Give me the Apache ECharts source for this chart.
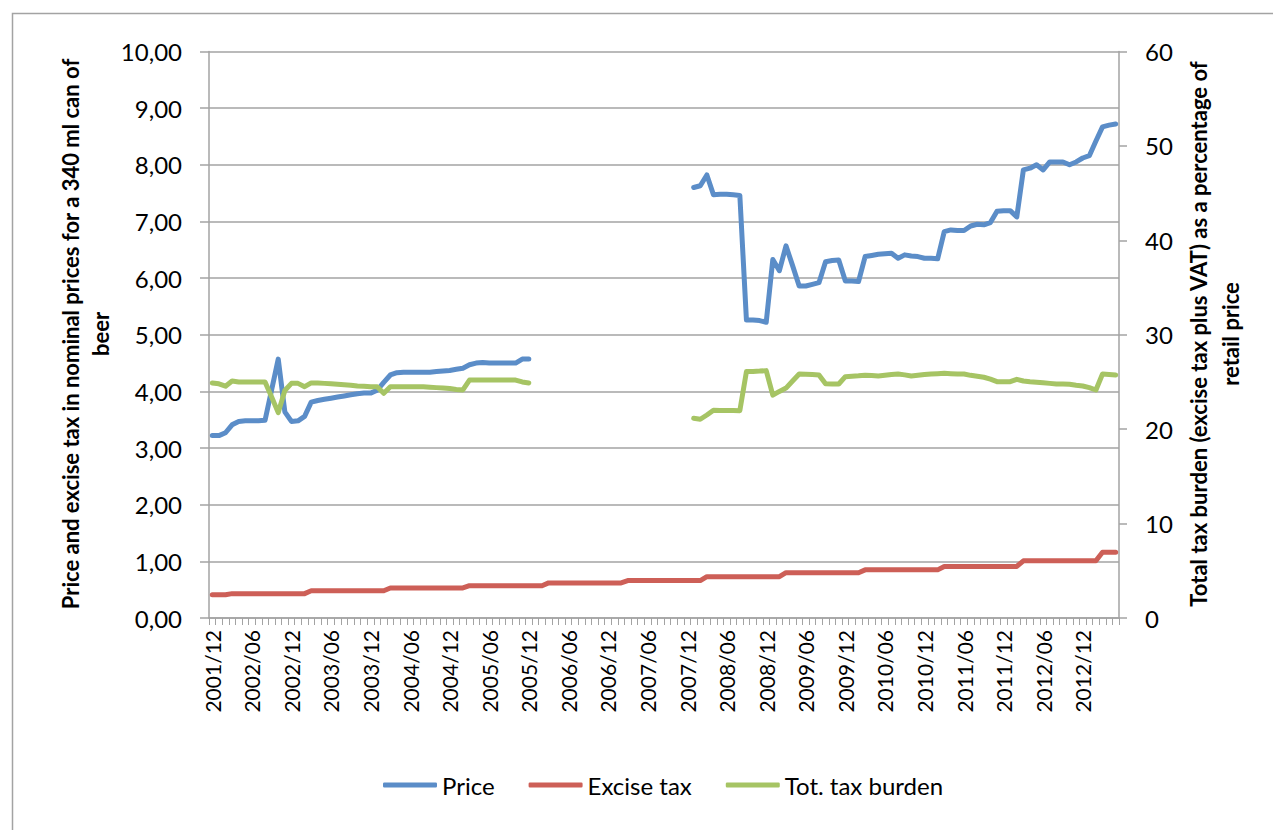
<!DOCTYPE html>
<html>
<head>
<meta charset="utf-8">
<title>Beer price and taxes</title>
<script src="https://cdn.jsdelivr.net/npm/echarts@6/dist/echarts.min.js"></script>
<style>
  html, body { margin: 0; padding: 0; background: #ffffff; }
  #chart { width: 1273px; height: 830px; }
</style>
</head>
<body>
<div id="chart"></div>
<script>
// Monthly categories, 2001/12 through 2013/05
const months = [];
for (let y = 2001, m = 12; !(y === 2013 && m === 6); ) {
  months.push(y + '/' + String(m).padStart(2, '0'));
  m++; if (m > 12) { m = 1; y++; }
}

// Retail price of a 340 ml can (nominal), null where no observation
const price = [
  3.22,                                                                   // 2001/12
  3.22, 3.27, 3.41, 3.47, 3.48, 3.48, 3.48, 3.49, 4.03, 4.57, 3.64, 3.47, // 2002
  3.48, 3.56, 3.81, 3.84, 3.86, 3.88, 3.90, 3.92, 3.94, 3.96, 3.97, 3.97, // 2003
  4.02, 4.16, 4.29, 4.33, 4.34, 4.34, 4.34, 4.34, 4.34, 4.35, 4.36, 4.37, // 2004
  4.39, 4.41, 4.47, 4.50, 4.51, 4.50, 4.50, 4.50, 4.50, 4.50, 4.57, 4.57, // 2005
  null, null, null, null, null, null, null, null, null, null, null, null, // 2006
  null, null, null, null, null, null, null, null, null, null, null, null, // 2007
  7.60, 7.63, 7.82, 7.47, 7.48, 7.48, 7.47, 7.46, 5.26, 5.26, 5.25, 5.22, // 2008
  6.33, 6.13, 6.57, 6.22, 5.86, 5.86, 5.89, 5.92, 6.29, 6.31, 6.32, 5.95, // 2009
  5.95, 5.94, 6.38, 6.40, 6.42, 6.43, 6.44, 6.35, 6.41, 6.39, 6.38, 6.35, // 2010
  6.35, 6.34, 6.82, 6.85, 6.84, 6.84, 6.92, 6.95, 6.94, 6.98, 7.18, 7.19, // 2011
  7.19, 7.08, 7.91, 7.94, 8.00, 7.91, 8.05, 8.05, 8.05, 8.00, 8.05, 8.12, // 2012
  8.16, 8.42, 8.67, 8.70, 8.72                                            // 2013
];

// Excise tax per 340 ml can (nominal)
const exciseTax = [
  0.41,
  0.41, 0.41, 0.43, 0.43, 0.43, 0.43, 0.43, 0.43, 0.43, 0.43, 0.43, 0.43,
  0.43, 0.43, 0.48, 0.48, 0.48, 0.48, 0.48, 0.48, 0.48, 0.48, 0.48, 0.48,
  0.48, 0.48, 0.53, 0.53, 0.53, 0.53, 0.53, 0.53, 0.53, 0.53, 0.53, 0.53,
  0.53, 0.53, 0.57, 0.57, 0.57, 0.57, 0.57, 0.57, 0.57, 0.57, 0.57, 0.57,
  0.57, 0.57, 0.62, 0.62, 0.62, 0.62, 0.62, 0.62, 0.62, 0.62, 0.62, 0.62,
  0.62, 0.62, 0.66, 0.66, 0.66, 0.66, 0.66, 0.66, 0.66, 0.66, 0.66, 0.66,
  0.66, 0.66, 0.73, 0.73, 0.73, 0.73, 0.73, 0.73, 0.73, 0.73, 0.73, 0.73,
  0.73, 0.73, 0.80, 0.80, 0.80, 0.80, 0.80, 0.80, 0.80, 0.80, 0.80, 0.80,
  0.80, 0.80, 0.85, 0.85, 0.85, 0.85, 0.85, 0.85, 0.85, 0.85, 0.85, 0.85,
  0.85, 0.85, 0.91, 0.91, 0.91, 0.91, 0.91, 0.91, 0.91, 0.91, 0.91, 0.91,
  0.91, 0.91, 1.01, 1.01, 1.01, 1.01, 1.01, 1.01, 1.01, 1.01, 1.01, 1.01,
  1.01, 1.01, 1.16, 1.16, 1.16
];

// Total tax burden (excise + VAT) as % of retail price
const taxBurden = [
  24.9,
  24.8, 24.55, 25.1, 25.0, 25.0, 25.0, 25.0, 25.0, 23.4, 21.75, 24.1, 24.85,
  24.85, 24.5, 24.9, 24.9, 24.85, 24.8, 24.75, 24.7, 24.65, 24.57, 24.55, 24.5,
  24.5, 23.8, 24.5, 24.5, 24.5, 24.5, 24.5, 24.5, 24.45, 24.4, 24.35, 24.3,
  24.2, 24.15, 25.2, 25.2, 25.2, 25.2, 25.2, 25.2, 25.2, 25.2, 25.0, 24.9,
  null, null, null, null, null, null, null, null, null, null, null, null,
  null, null, null, null, null, null, null, null, null, null, null, null,
  21.15, 21.05, 21.5, 22.0, 21.98, 21.98, 21.97, 21.96, 26.1, 26.12, 26.15, 26.2,
  23.6, 24.0, 24.35, 25.1, 25.84, 25.82, 25.78, 25.74, 24.8, 24.78, 24.78, 25.56,
  25.6, 25.65, 25.72, 25.68, 25.63, 25.7, 25.78, 25.84, 25.75, 25.63, 25.7, 25.78,
  25.85, 25.88, 25.91, 25.88, 25.85, 25.84, 25.7, 25.6, 25.5, 25.3, 25.03, 25.03,
  25.03, 25.28, 25.1, 25.03, 24.98, 24.92, 24.85, 24.78, 24.78, 24.75, 24.65, 24.57,
  24.4, 24.15, 25.84, 25.8, 25.74
];

const leftTicks = [0, 1, 2, 3, 4, 5, 6, 7, 8, 9, 10];
const rightTicks = [0, 10, 20, 30, 40, 50, 60];

const FONT = 'Lato, "Open Sans", sans-serif';
const GRID_GRAY = '#a3a3a3';
const COLORS = { price: '#5b8dc8', excise: '#cd5f57', burden: '#a6c464' };

const chart = echarts.init(document.getElementById('chart'), null, { renderer: 'svg' });

const lineSeries = (name, data, color, yAxisIndex) => ({
  name, type: 'line', data, yAxisIndex,
  showSymbol: false, symbol: 'none', connectNulls: false, smooth: false,
  lineStyle: { color, width: 5, cap: 'round', join: 'round' },
  itemStyle: { color },
  emphasis: { disabled: true },
  animation: false
});

chart.setOption({
  animation: false,
  backgroundColor: '#ffffff',
  textStyle: { fontFamily: FONT, color: '#000' },
  grid: { left: 209, right: 154, top: 51.5, bottom: 212, outerBoundsMode: 'none', containLabel: false },
  legend: {
    left: 383, top: 773,
    itemWidth: 54, itemHeight: 5, itemGap: 34,
    icon: 'roundRect',
    padding: 0,
    textStyle: { fontFamily: FONT, fontSize: 24, color: '#000' },
    data: ['Price', 'Excise tax', 'Tot. tax burden']
  },
  xAxis: {
    type: 'category', data: months, boundaryGap: true,
    axisLine: { show: true, onZero: false, lineStyle: { color: GRID_GRAY, width: 1.5 } },
    axisTick: { show: true, interval: 0, length: 7, lineStyle: { color: GRID_GRAY, width: 1 } },
    axisLabel: { interval: 5, rotate: 90, margin: 12, fontSize: 21, fontFamily: FONT, color: '#000' },
    splitLine: { show: false }
  },
  yAxis: [
    {
      type: 'value', min: leftTicks[0], max: leftTicks[leftTicks.length - 1], interval: 1,
      axisLine: { show: true, lineStyle: { color: GRID_GRAY, width: 1.5 } },
      axisTick: { show: true, length: 9, lineStyle: { color: GRID_GRAY, width: 1.5 } },
      axisLabel: {
        margin: 27, fontSize: 24, fontFamily: FONT, color: '#000',
        formatter: v => v.toFixed(2).replace('.', ',')
      },
      splitLine: { show: true, lineStyle: { color: GRID_GRAY, width: 1.5 } }
    },
    {
      type: 'value', position: 'right', min: rightTicks[0], max: rightTicks[rightTicks.length - 1], interval: 10,
      axisLine: { show: true, lineStyle: { color: GRID_GRAY, width: 1.5 } },
      axisTick: { show: true, length: 8, lineStyle: { color: GRID_GRAY, width: 1.5 } },
      axisLabel: { margin: 26, fontSize: 24, fontFamily: FONT, color: '#000' },
      splitLine: { show: false }
    }
  ],
  graphic: [
    {
      type: 'rect', silent: true, z: -1,
      shape: { x: 12.5, y: 13.5, width: 1400, height: 1000 },
      style: { fill: 'none', stroke: GRID_GRAY, lineWidth: 1.5 }
    },
    {
      type: 'text', x: 85, y: 334, rotation: Math.PI / 2, silent: true,
      style: {
        text: 'Price and excise tax in nominal prices for a 340 ml can of\nbeer',
        fontFamily: FONT, fontWeight: 'bold', fontSize: 22, lineHeight: 30,
        fill: '#000', align: 'center', verticalAlign: 'middle'
      }
    },
    {
      type: 'text', x: 1214, y: 334, rotation: Math.PI / 2, silent: true,
      style: {
        text: 'Total tax burden (excise tax plus VAT) as a percentage of\nretail price',
        fontFamily: FONT, fontWeight: 'bold', fontSize: 22, lineHeight: 32,
        fill: '#000', align: 'center', verticalAlign: 'middle'
      }
    }
  ],
  series: [
    lineSeries('Price', price, COLORS.price, 0),
    lineSeries('Excise tax', exciseTax, COLORS.excise, 0),
    lineSeries('Tot. tax burden', taxBurden, COLORS.burden, 1)
  ]
});
</script>
</body>
</html>
